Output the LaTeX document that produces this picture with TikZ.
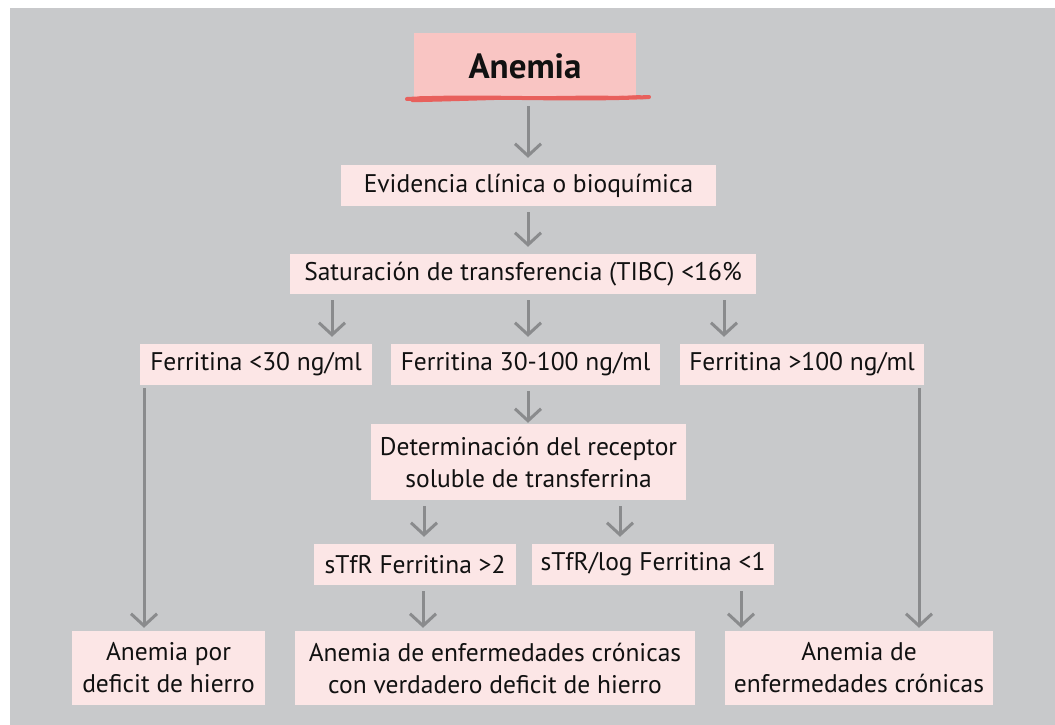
\documentclass[tikz,border=0pt]{standalone}
\usepackage{fontspec}
\setmainfont{PT Sans}
\usetikzlibrary{arrows.meta}
\definecolor{bggray}{HTML}{C8C9CB}
\definecolor{boxpink}{HTML}{FCE6E6}
\definecolor{toppink}{HTML}{F9C5C3}
\definecolor{ulred}{HTML}{E8605C}
\definecolor{arrgray}{HTML}{8A8B8D}
\definecolor{txt}{HTML}{111111}
\tikzset{
  box/.style={rectangle, fill=boxpink, inner sep=0pt, text=txt, align=center,
    font=\fontsize{25.5}{32}\selectfont},
  topbox/.style={rectangle, fill=toppink, inner sep=0pt, text=txt,
    font=\fontsize{35}{40}\selectfont\bfseries},
  arr/.style={draw=arrgray, line width=3pt, -{Straight Barb[length=12pt,width=26pt]},
    shorten <=6pt, shorten >=7pt},
  ulstroke/.style={draw=ulred, line cap=round}
}
\begin{document}
\begin{tikzpicture}[x=1pt,y=-1pt]
\useasboundingbox (0,0) rectangle (1055,725);
\fill[white] (0,0) rectangle (1055,725);
\fill[bggray] (10,8) rectangle (1055,725);

\node[topbox, minimum width=222pt, minimum height=67pt] (an) at (525,66.5) {Anemia};
\draw[ulstroke, line width=4pt] (407,99) .. controls (480,95) and (560,101) .. (649,97);
\draw[ulstroke, line width=2.5pt] (412,101) .. controls (500,99) and (580,95) .. (646,98);
\draw[ulstroke, line width=2pt] (420,97) .. controls (520,98) and (600,99) .. (640,96);

\node[box, minimum width=375pt, minimum height=41pt] (ev) at (528.5,185.5) {Evidencia clínica o bioquímica};
\node[box, minimum width=466pt, minimum height=40pt] (sat) at (523,274) {Saturación de transferencia (TIBC) <16\%};
\node[box, minimum width=232pt, minimum height=41pt] (f1) at (256,364.5) {Ferritina <30 ng/ml};
\node[box, minimum width=269pt, minimum height=41pt] (f2) at (525.5,364.5) {Ferritina 30-100 ng/ml};
\node[box, minimum width=244pt, minimum height=41pt] (f3) at (802,364.5) {Ferritina >100 ng/ml};
\node[box, minimum width=315pt, minimum height=76pt] (det) at (528.5,462) {Determinación del receptor\\soluble de transferrina};
\node[box, minimum width=202pt, minimum height=41pt] (s1) at (415,564.5) {sTfR Ferritina >2};
\node[box, minimum width=242pt, minimum height=41pt] (s2) at (653,564.5) {sTfR/log Ferritina <1};
\node[box, minimum width=193pt, minimum height=74pt] (ap) at (168.5,668) {Anemia por\\deficit de hierro};
\node[box, minimum width=400pt, minimum height=74pt] (ac) at (495,668) {Anemia de enfermedades crónicas\\con verdadero deficit de hierro};
\node[box, minimum width=268pt, minimum height=74pt] (ae) at (859,668) {Anemia de\\enfermedades crónicas};

\draw[arr] (an.south -| 528,0) -- (ev.north -| 528,0);
\draw[arr] (ev.south -| 528,0) -- (sat.north -| 528,0);
\draw[arr] (sat.south -| 332,0) -- (f1.north -| 332,0);
\draw[arr] (sat.south -| 528,0) -- (f2.north -| 528,0);
\draw[arr] (sat.south -| 724,0) -- (f3.north -| 724,0);
\draw[arr, shorten <=3pt, shorten >=3pt] (f1.south -| 144,0) -- (ap.north -| 144,0);
\draw[arr, shorten <=3pt, shorten >=3pt] (f3.south -| 919,0) -- (ae.north -| 919,0);
\draw[arr, shorten >=1pt] (f2.south -| 528,0) -- (det.north -| 528,0);
\draw[arr] (det.south -| 424,0) -- (s1.north -| 424,0);
\draw[arr] (det.south -| 620,0) -- (s2.north -| 620,0);
\draw[arr, shorten >=3pt] (s1.south -| 423,0) -- (ac.north -| 423,0);
\draw[arr, shorten >=3pt] (s2.south -| 741,0) -- (ae.north -| 741,0);
\end{tikzpicture}
\end{document}
